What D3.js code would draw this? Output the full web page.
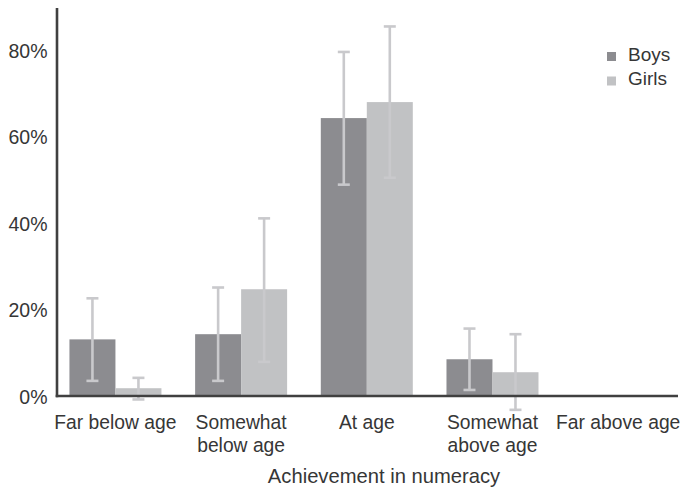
<!DOCTYPE html>
<html>
<head>
<meta charset="utf-8">
<script src="https://cdn.jsdelivr.net/npm/d3@7"></script>
<style>
  html, body { margin: 0; padding: 0; background: #fff; }
  svg { display: block; font-family: "Liberation Sans", Arial, sans-serif; }
</style>
</head>
<body>
<svg id="chart" width="686" height="493"></svg>
<script>
// Achievement categories (two-line labels split on "\n")
const categories = ["Far below age", "Somewhat\nbelow age", "At age", "Somewhat\nabove age", "Far above age"];
const seriesNames = ["Boys", "Girls"];

// Share of children in each category (%)
const boysValues  = [13.1, 14.3, 64.3, 8.5, 0];
const girlsValues = [1.8, 24.7, 68.0, 5.5, 0];

// Error bar limits (%), null where no interval is shown
const boysLow   = [3.5, 3.5, 48.9, 1.4, null];
const boysHigh  = [22.6, 25.1, 79.6, 15.6, null];
const girlsLow  = [-0.8, 7.9, 50.5, -3.2, null];
const girlsHigh = [4.2, 41.1, 85.5, 14.3, null];

const yTicks = [0, 20, 40, 60, 80];

const colors = { Boys: "#8c8c90", Girls: "#c1c2c4" };
const errColor = "#c9c9cc";
const textColor = "#363636";
const axisColor = "#404040";

const svg = d3.select("#chart");

const x0 = d3.scaleBand()
  .domain(categories)
  .range([52.6, 681])
  .paddingInner(0.268)
  .paddingOuter(0.134);

const x1 = d3.scaleBand()
  .domain(seriesNames)
  .range([0, x0.bandwidth()]);

const y = d3.scaleLinear()
  .domain([0, 90])
  .range([396, 7]);

const rows = categories.map((c, i) => ({
  category: c,
  bars: [
    { series: "Boys",  value: boysValues[i],  low: boysLow[i],  high: boysHigh[i] },
    { series: "Girls", value: girlsValues[i], low: girlsLow[i], high: girlsHigh[i] }
  ]
}));

// Bars
const groups = svg.append("g").selectAll("g")
  .data(rows)
  .join("g")
  .attr("transform", d => `translate(${x0(d.category)},0)`);

groups.selectAll("rect")
  .data(d => d.bars.filter(b => b.value > 0))
  .join("rect")
  .attr("x", b => x1(b.series))
  .attr("y", b => y(b.value))
  .attr("width", x1.bandwidth())
  .attr("height", b => y(0) - y(b.value))
  .attr("fill", b => colors[b.series]);

// Error bars
const capHalf = 6;
const eb = groups.selectAll("g.err")
  .data(d => d.bars.filter(b => b.low !== null))
  .join("g")
  .attr("class", "err")
  .attr("stroke", errColor)
  .attr("stroke-width", 2.6);

eb.append("line")
  .attr("x1", b => x1(b.series) + x1.bandwidth() / 2)
  .attr("x2", b => x1(b.series) + x1.bandwidth() / 2)
  .attr("y1", b => y(b.low))
  .attr("y2", b => y(b.high));

["low", "high"].forEach(k => {
  eb.append("line")
    .attr("x1", b => x1(b.series) + x1.bandwidth() / 2 - capHalf)
    .attr("x2", b => x1(b.series) + x1.bandwidth() / 2 + capHalf)
    .attr("y1", b => y(b[k]))
    .attr("y2", b => y(b[k]));
});

// Axes lines
svg.append("line")
  .attr("x1", 57).attr("x2", 57)
  .attr("y1", y.range()[1] + 1).attr("y2", y(0) + 1.2)
  .attr("stroke", axisColor).attr("stroke-width", 2.6);
svg.append("line")
  .attr("x1", 55.7).attr("x2", 678)
  .attr("y1", y(0)).attr("y2", y(0))
  .attr("stroke", axisColor).attr("stroke-width", 2.6);

// Y tick labels
svg.append("g").selectAll("text")
  .data(yTicks)
  .join("text")
  .attr("x", 47.5)
  .attr("y", d => y(d))
  .attr("dy", "0.4em")
  .attr("text-anchor", "end")
  .attr("font-size", 19.5)
  .attr("fill", textColor)
  .text(d => d + "%");

// X category labels
const xl = svg.append("g").selectAll("text")
  .data(categories)
  .join("text")
  .attr("x", d => x0(d) + x0.bandwidth() / 2)
  .attr("y", 429)
  .attr("text-anchor", "middle")
  .attr("font-size", 19.3)
  .attr("fill", textColor);
xl.selectAll("tspan")
  .data(d => d.split("\n").map(t => ({ t, x: x0(d) + x0.bandwidth() / 2 })))
  .join("tspan")
  .attr("x", t => t.x)
  .attr("dy", (t, i) => i === 0 ? 0 : 22.5)
  .text(t => t.t);

// X axis title
svg.append("text")
  .attr("x", 384)
  .attr("y", 483)
  .attr("text-anchor", "middle")
  .attr("font-size", 20.2)
  .attr("fill", textColor)
  .text("Achievement in numeracy");

// Legend
const legend = svg.append("g").selectAll("g")
  .data(seriesNames)
  .join("g")
  .attr("transform", (d, i) => `translate(607,${52 + i * 24.5})`);
legend.append("rect")
  .attr("width", 9).attr("height", 9)
  .attr("fill", d => colors[d]);
legend.append("text")
  .attr("x", 21)
  .attr("y", 8.5)
  .attr("font-size", 19)
  .attr("fill", textColor)
  .text(d => d);
</script>
</body>
</html>
